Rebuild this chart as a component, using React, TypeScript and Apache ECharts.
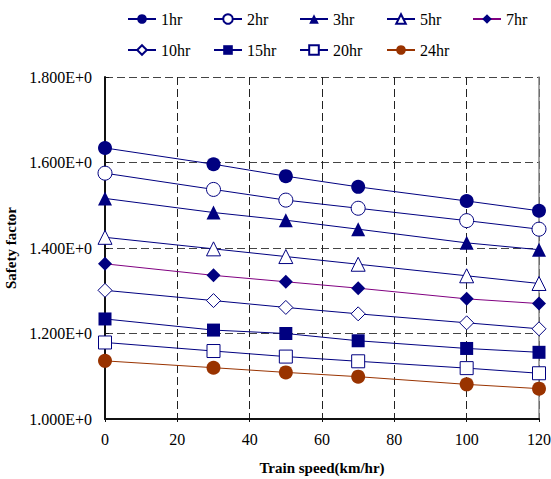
import React, { useEffect, useRef } from "react";
import * as echarts from "echarts";

const speeds = [0, 30, 50, 70, 100, 120];
const seriesNames = ["1hr", "2hr", "3hr", "5hr", "7hr", "10hr", "15hr", "20hr", "24hr"];
const s1hr = [1.634, 1.596, 1.568, 1.543, 1.51, 1.487];
const s2hr = [1.575, 1.537, 1.512, 1.493, 1.464, 1.444];
const s3hr = [1.516, 1.483, 1.465, 1.444, 1.412, 1.396];
const s5hr = [1.425, 1.398, 1.38, 1.362, 1.335, 1.317];
const s7hr = [1.363, 1.336, 1.321, 1.306, 1.281, 1.27];
const s10hr = [1.301, 1.277, 1.261, 1.246, 1.225, 1.211];
const s15hr = [1.234, 1.208, 1.2, 1.183, 1.165, 1.156];
const s20hr = [1.179, 1.159, 1.146, 1.135, 1.119, 1.107];
const s24hr = [1.136, 1.12, 1.109, 1.099, 1.081, 1.071];
const xTicks = [0, 20, 40, 60, 80, 100, 120];
const yTicks = [1.0, 1.2, 1.4, 1.6, 1.8];

const allValues = [s1hr, s2hr, s3hr, s5hr, s7hr, s10hr, s15hr, s20hr, s24hr];

const NAVY = "#000080";
const PURPLE = "#800080";
const BROWN = "#993300";
const FONT = "Liberation Serif";

type Style = { symbol: string; size: number; filled: boolean; line: string; fill: string };
const styles: Style[] = [
  { symbol: "circle", size: 14, filled: true, line: NAVY, fill: NAVY },
  { symbol: "circle", size: 14, filled: false, line: NAVY, fill: NAVY },
  { symbol: "triangle", size: 14, filled: true, line: NAVY, fill: NAVY },
  { symbol: "triangle", size: 14, filled: false, line: NAVY, fill: NAVY },
  { symbol: "diamond", size: 14, filled: true, line: PURPLE, fill: NAVY },
  { symbol: "diamond", size: 14, filled: false, line: NAVY, fill: NAVY },
  { symbol: "rect", size: 13, filled: true, line: NAVY, fill: NAVY },
  { symbol: "rect", size: 13, filled: false, line: NAVY, fill: NAVY },
  { symbol: "circle", size: 14, filled: true, line: BROWN, fill: BROWN },
];

export default function App() {
  const ref = useRef<HTMLDivElement>(null);
  useEffect(() => {
    if (!ref.current) return;
    const chart = echarts.init(ref.current, undefined, { renderer: "svg" });
    const series: any[] = seriesNames.map((name, i) => {
      const st = styles[i];
      return {
        name,
        type: "line",
        data: speeds.map((x, j) => [x, allValues[i][j]]),
        symbol: st.symbol,
        symbolSize: st.size,
        showAllSymbol: true,
        lineStyle: { color: st.line, width: 1 },
        itemStyle: st.filled
          ? { color: st.fill, borderColor: st.fill, borderWidth: 0 }
          : { color: "#ffffff", borderColor: st.fill, borderWidth: 1 },
        emphasis: { disabled: true },
        z: 3,
      };
    });
    const legendLefts = [127, 213, 299, 386, 472];
    const legends = seriesNames.map((name, i) => ({
      data: [name],
      left: legendLefts[i % 5],
      top: i < 5 ? 11 : 42,
      itemWidth: 28,
      itemHeight: 12,
      itemGap: 0,
      padding: 0,
      selectedMode: false,
      textStyle: { fontFamily: FONT, fontSize: 16, fontWeight: "normal", color: "#000" },
    }));
    chart.setOption({
      animation: false,
      backgroundColor: "#ffffff",
      textStyle: { fontFamily: FONT },
      legend: legends,
      grid: { left: 105, right: 12, top: 77, bottom: 60, containLabel: false, outerBoundsMode: "none" },
      xAxis: {
        type: "value",
        min: xTicks[0],
        max: xTicks[xTicks.length - 1],
        interval: 20,
        name: "Train speed(km/hr)",
        nameLocation: "middle",
        nameGap: 41,
        nameTextStyle: { fontFamily: FONT, fontSize: 15, fontWeight: "bold", color: "#000" },
        axisLine: { onZero: false, lineStyle: { color: "#111", width: 2 } },
        axisTick: { show: true, inside: false, length: 3, lineStyle: { color: "#111" } },
        axisLabel: { fontFamily: FONT, fontSize: 16, fontWeight: "normal", color: "#000", margin: 12 },
        splitLine: { show: true, lineStyle: { color: "#222", type: [8, 4], width: 1 } },
      },
      yAxis: [
        {
          type: "value",
          min: yTicks[0],
          max: yTicks[yTicks.length - 1],
          interval: 0.2,
          name: "Safety factor",
          nameLocation: "middle",
          nameGap: 82,
          nameRotate: 90,
          nameTextStyle: { fontFamily: FONT, fontSize: 15, fontWeight: "bold", color: "#000" },
          axisLine: { show: true, lineStyle: { color: "#111", width: 2 } },
          axisTick: { show: true, inside: true, length: 4, lineStyle: { color: "#111" } },
          axisLabel: {
            fontFamily: FONT,
            fontSize: 16,
            fontWeight: "normal",
            color: "#000",
            margin: 13,
            formatter: (v: number) => v.toFixed(3) + "E+0",
          },
          splitLine: { show: true, lineStyle: { color: "#444", type: [8, 4], width: 1 } },
        },
        {
          type: "value",
          position: "right",
          min: yTicks[0],
          max: yTicks[yTicks.length - 1],
          interval: 0.2,
          axisLine: { show: true, lineStyle: { color: "#888", width: 1.5 } },
          axisTick: { show: false },
          axisLabel: { show: false },
          splitLine: { show: false },
        },
      ],
      series,
    });
    return () => chart.dispose();
  }, []);
  return <div ref={ref} style={{ width: 551, height: 479, position: "absolute", left: 0, top: 0 }} />;
}
